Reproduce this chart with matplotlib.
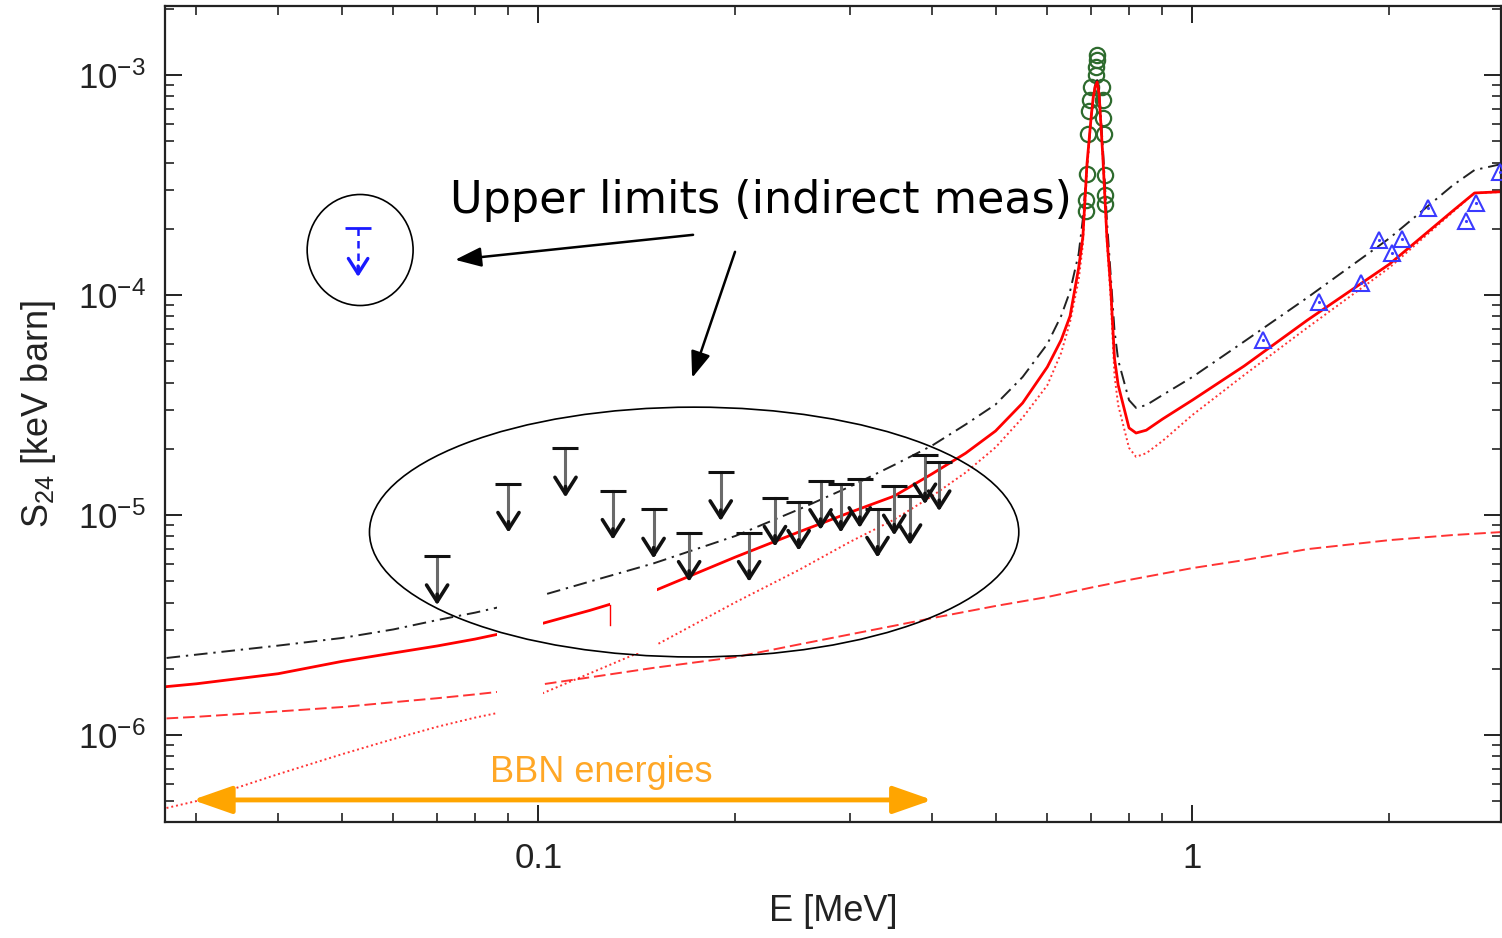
import matplotlib
matplotlib.use("Agg")
import matplotlib.pyplot as plt
from matplotlib.patches import Ellipse, Rectangle, FancyArrowPatch
from matplotlib.ticker import NullFormatter

plt.rcParams['font.family'] = ['Liberation Sans', 'DejaVu Sans']
plt.rcParams['mathtext.fontset'] = 'custom'
plt.rcParams['mathtext.rm'] = 'Liberation Sans'
plt.rcParams['mathtext.it'] = 'Liberation Sans:italic'
plt.rcParams['mathtext.default'] = 'regular'
plt.rcParams['axes.unicode_minus'] = False

# --- model curves (E in MeV, S24 in keV barn) ---
e_model = [0.027, 0.03, 0.04, 0.05, 0.06, 0.07, 0.08, 0.09, 0.1, 0.12, 0.15, 0.2,
           0.25, 0.3, 0.35, 0.4, 0.45, 0.5, 0.55, 0.6, 0.63, 0.65, 0.67, 0.68,
           0.69, 0.70, 0.705, 0.71, 0.715, 0.72, 0.73, 0.74, 0.75, 0.76, 0.77,
           0.8, 0.82, 0.85, 0.9, 1.0, 1.2, 1.5, 2.0, 2.5, 2.7, 2.97]
s_total = [1.66e-6, 1.71e-6, 1.90e-6, 2.16e-6, 2.36e-6, 2.54e-6, 2.73e-6, 2.94e-6,
           3.18e-6, 3.69e-6, 4.51e-6, 6.44e-6, 8.37e-6, 1.03e-5, 1.22e-5, 1.54e-5,
           1.91e-5, 2.41e-5, 3.23e-5, 4.71e-5, 6.25e-5, 8.02e-5, 1.33e-4, 1.84e-4,
           3.96e-4, 6.40e-4, 7.86e-4, 8.82e-4, 9.29e-4, 8.20e-4, 4.11e-4, 1.84e-4,
           1.08e-4, 5.17e-5, 3.90e-5, 2.49e-5, 2.36e-5, 2.43e-5, 2.73e-5, 3.33e-5,
           4.76e-5, 7.70e-5, 1.38e-4, 2.41e-4, 2.91e-4, 2.95e-4]
s_dashdot = [2.24e-6, 2.32e-6, 2.55e-6, 2.76e-6, 3.02e-6, 3.33e-6, 3.60e-6, 3.90e-6,
             4.27e-6, 4.99e-6, 6.03e-6, 8.03e-6, 1.06e-5, 1.35e-5, 1.69e-5, 2.07e-5,
             2.58e-5, 3.18e-5, 4.24e-5, 5.99e-5, 8.04e-5, 1.04e-4, 1.54e-4, 2.22e-4,
             3.86e-4, 6.37e-4, 7.86e-4, 8.91e-4, 9.49e-4, 8.55e-4, 4.56e-4, 2.19e-4,
             1.23e-4, 6.93e-5, 5.06e-5, 3.33e-5, 3.07e-5, 3.16e-5, 3.51e-5, 4.24e-5,
             6.15e-5, 9.75e-5, 1.81e-4, 3.15e-4, 3.70e-4, 3.94e-4]
s_dotted = [4.66e-7, 5.01e-7, 6.64e-7, 8.17e-7, 9.59e-7, 1.09e-6, 1.20e-6, 1.29e-6,
            1.52e-6, 1.91e-6, 2.53e-6, 4.01e-6, 5.62e-6, 7.57e-6, 9.54e-6, 1.22e-5,
            1.56e-5, 2.03e-5, 2.77e-5, 3.89e-5, 5.46e-5, 7.54e-5, 1.17e-4, 1.69e-4,
            3.70e-4, 6.24e-4, 7.78e-4, 8.73e-4, 9.20e-4, 8.11e-4, 4.02e-4, 1.74e-4,
            9.69e-5, 4.33e-5, 3.16e-5, 2.02e-5, 1.84e-5, 1.91e-5, 2.17e-5, 2.85e-5,
            4.33e-5, 7.12e-5, 1.33e-4, 2.38e-4, 2.91e-4, 2.94e-4]

e_dashed = [0.027, 0.03, 0.04, 0.05, 0.06, 0.07, 0.08, 0.09, 0.1, 0.12, 0.15, 0.2,
            0.25, 0.3, 0.35, 0.4, 0.5, 0.6, 0.7, 0.8, 1.0, 1.2, 1.5, 2.0, 2.5, 2.97]
s_dashed = [1.19e-6, 1.21e-6, 1.28e-6, 1.34e-6, 1.41e-6, 1.47e-6, 1.53e-6, 1.59e-6,
            1.69e-6, 1.83e-6, 2.02e-6, 2.26e-6, 2.58e-6, 2.87e-6, 3.14e-6, 3.40e-6,
            3.86e-6, 4.24e-6, 4.68e-6, 5.07e-6, 5.74e-6, 6.24e-6, 7.00e-6, 7.69e-6,
            8.11e-6, 8.37e-6]

# --- data ---
e_res = [0.714, 0.714, 0.713, 0.711, 0.700, 0.697, 0.695, 0.692, 0.689, 0.687, 0.688,
         0.727, 0.730, 0.731, 0.732, 0.734, 0.734, 0.734]
s_res = [1.23e-3, 1.17e-3, 1.09e-3, 1.00e-3, 8.8e-4, 7.7e-4, 6.9e-4, 5.4e-4, 3.55e-4,
         2.7e-4, 2.4e-4, 8.8e-4, 7.7e-4, 6.4e-4, 5.4e-4, 3.5e-4, 2.85e-4, 2.6e-4]

e_tri = [1.284, 1.564, 1.811, 1.931, 2.018, 2.09, 2.296, 2.62, 2.71, 2.95]
s_tri = [6.24e-5, 9.32e-5, 1.13e-4, 1.77e-4, 1.55e-4, 1.79e-4, 2.48e-4, 2.18e-4,
         2.61e-4, 3.63e-4]

e_ul = [0.07, 0.09, 0.11, 0.13, 0.15, 0.17, 0.19, 0.21, 0.23, 0.25, 0.27, 0.29,
        0.31, 0.33, 0.35, 0.37, 0.39, 0.41]
s_ul = [6.51e-6, 1.39e-5, 2.01e-5, 1.29e-5, 1.06e-5, 8.31e-6, 1.57e-5, 8.31e-6,
        1.20e-5, 1.15e-5, 1.43e-5, 1.39e-5, 1.46e-5, 1.07e-5, 1.35e-5, 1.22e-5,
        1.87e-5, 1.74e-5]

e_ul_ind = [0.053]
s_ul_ind = [2.02e-4]

bbn_range = (0.0293, 0.404)
bbn_level = 5.07e-7

# white patches present in the original figure (x0, x1, y0, y1)
gap1 = (0.0865, 0.1017, 1.0e-6, 4.7e-6)
gap2 = (0.1287, 0.1519, 2.36e-6, 4.9e-6)

fig = plt.figure(figsize=(15.02, 9.38), dpi=100)
ax = fig.add_axes([0.1099, 0.1233, 0.8895, 0.8703])
ax.set_xscale('log')
ax.set_yscale('log')
ax.set_xlim(0.02686, 2.965)
ax.set_ylim(4.01e-7, 2.06e-3)

red = '#ff0000'
ax.plot(e_model, s_dashdot, color='#222222', lw=1.4, dashes=[7, 3, 1.2, 3], zorder=2)
ax.plot(e_dashed, s_dashed, color=red, lw=1.4, alpha=0.8, dashes=[6, 2.5], zorder=2)
ax.plot(e_model, s_dotted, color=red, lw=1.4, alpha=0.8, dashes=[1, 1.5], zorder=2)
ax.plot(e_model, s_total, color=red, lw=2.0, zorder=2.5)

# white gaps
for g in (gap1, gap2):
    ax.add_patch(Rectangle((g[0], g[2]), g[1] - g[0], g[3] - g[2],
                           facecolor='white', edgecolor='none', zorder=3))
ax.plot([gap2[0], gap2[0]], [3.9e-6, 3.15e-6], color=red, lw=1.0, zorder=3.5)

# resonance data
ax.plot(e_res, s_res, 'o', ms=11, mfc='none', mec='#2e6b2e', mew=1.6, zorder=1.8)
# triangles
ax.plot(e_tri, s_tri, '^', ms=11, mfc='none', mec='#3a3aff', mew=1.5, zorder=4)
ax.plot(e_tri, s_tri, '.', ms=2.5, color='#3a3aff', zorder=4)

# upper limits
drop = 10 ** (-49 / 220)
for x, y in zip(e_ul, s_ul):
    tip = y * drop
    ax.plot([x, x], [y, tip * 1.05], color='#6a6a6a', lw=2.2, zorder=4)
    ax.plot([x], [y], marker='_', ms=19, mew=2.2, color='#111111', zorder=4)
    ax.annotate('', xy=(x, tip), xytext=(x, tip * 1.12),
                arrowprops=dict(arrowstyle='->, head_length=0.6, head_width=0.38',
                                lw=2.6, color='#111111', mutation_scale=20,
                                shrinkA=0, shrinkB=0), zorder=4)

for x, y in zip(e_ul_ind, s_ul_ind):
    tip = y * drop
    ax.plot([x, x], [y, tip * 1.05], color='#1a1aff', lw=1.8, dashes=[3, 2], zorder=4)
    ax.plot([x], [y], marker='_', ms=19, mew=2.0, color='#1a1aff', zorder=4)
    ax.annotate('', xy=(x, tip), xytext=(x, tip * 1.12),
                arrowprops=dict(arrowstyle='->, head_length=0.55, head_width=0.35',
                                lw=2.4, color='#1a1aff', mutation_scale=20,
                                shrinkA=0, shrinkB=0), zorder=4)

# BBN arrow
arr = FancyArrowPatch((bbn_range[0], bbn_level), (bbn_range[1], bbn_level),
                      arrowstyle='<|-|>, head_length=1.2, head_width=0.42',
                      mutation_scale=20, lw=3.5, color='#ffa500', zorder=5)
ax.add_patch(arr)
ax.text(0.2433, 0.0494, 'BBN energies', transform=ax.transAxes, fontsize=26,
        color='#ffa726', va='baseline', ha='left', zorder=6)

# annotations
ax.add_patch(Ellipse((0.3960, 0.3556), 0.486, 0.306, transform=ax.transAxes,
                     fill=False, ec='black', lw=1.2, zorder=5))
ax.add_patch(Ellipse((0.1460, 0.7011), 0.0793, 0.136, transform=ax.transAxes,
                     fill=False, ec='black', lw=1.2, zorder=5))
ax.text(0.2133, 0.7464, 'Upper limits (indirect meas)', transform=ax.transAxes,
        fontsize=32, family='DejaVu Sans', color='black', va='baseline', ha='left',
        zorder=6)
ax.annotate('', xy=(0.2171, 0.6891), xytext=(0.3952, 0.7197),
            xycoords='axes fraction', textcoords='axes fraction',
            arrowprops=dict(arrowstyle='-|>, head_length=0.8, head_width=0.3',
                            lw=1.8, color='black', mutation_scale=20,
                            shrinkA=0, shrinkB=0), zorder=6)
ax.annotate('', xy=(0.3945, 0.5445), xytext=(0.4266, 0.6989),
            xycoords='axes fraction', textcoords='axes fraction',
            arrowprops=dict(arrowstyle='-|>, head_length=0.8, head_width=0.3',
                            lw=1.8, color='black', mutation_scale=20,
                            shrinkA=0, shrinkB=0), zorder=6)

# axes styling
ax.set_xticks([0.1, 1])
ax.set_xticklabels(['0.1', '1'])
ax.xaxis.set_minor_formatter(NullFormatter())
ax.set_yticks([1e-6, 1e-5, 1e-4, 1e-3])
ax.set_yticklabels([r'$10^{-6}$', r'$10^{-5}$', r'$10^{-4}$', r'$10^{-3}$'])
ax.yaxis.set_minor_formatter(NullFormatter())
ax.tick_params(which='both', direction='in', top=True, right=True,
               colors='#222222', labelsize=25, pad=14)
ax.tick_params(which='major', length=12, width=1.4)
ax.tick_params(which='minor', length=6.5, width=1.2)
for sp in ax.spines.values():
    sp.set_linewidth(1.6)
    sp.set_color('#222222')

ax.set_xlabel('E [MeV]', fontsize=26, color='#222222', labelpad=14)
ax.set_ylabel(r'S$_{24}$ [keV barn]', fontsize=26, color='#222222', labelpad=14)

fig.savefig('out.png', dpi=100)
